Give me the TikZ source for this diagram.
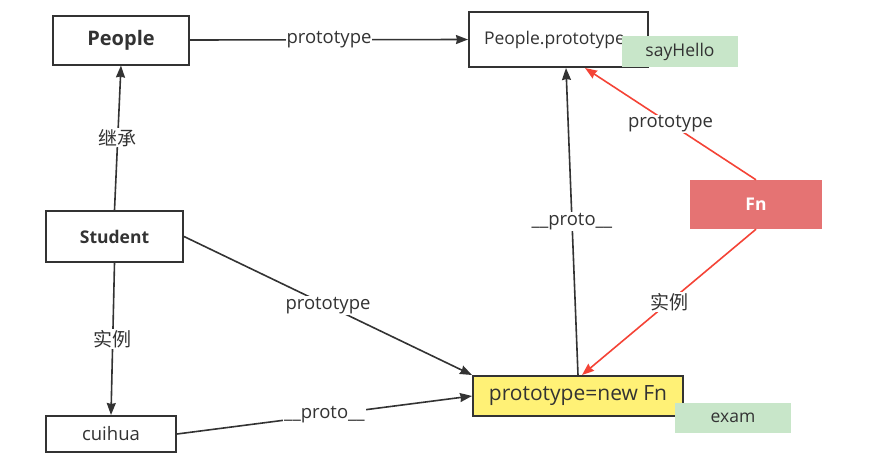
\documentclass[tikz,border=0pt]{standalone}
\usepackage{fontspec}
\usetikzlibrary{arrows.meta}
\setmainfont{Open Sans}
\newfontfamily\cjk{Noto Sans CJK SC}
\definecolor{linegray}{HTML}{333333}
\definecolor{arrowred}{HTML}{F44336}
\definecolor{notegreen}{HTML}{C8E6C9}
\definecolor{boxyellow}{HTML}{FFF176}
\definecolor{fnred}{HTML}{E57373}
\begin{document}
\begin{tikzpicture} [x = 1pt, y = -1pt, >={Stealth[length=12pt, width=9pt, inset=1pt]},
	box/.style = {draw = linegray, line width = 2pt, fill = white, inner sep = 0pt, text = linegray, font = \fontsize{18.5}{21}\selectfont},
	note/.style = {fill = notegreen, inner sep = 0pt, minimum width = 116pt, minimum height = 31pt, text = linegray, font = \fontsize{17.5}{20}\selectfont},
	link/.style = {->, draw = linegray, line width = 1.6pt},
	redlink/.style = {->, draw = arrowred, line width = 1.6pt},
	lbl/.style = {fill = white, inner sep = 1pt, text = linegray, font = \fontsize{18.5}{21}\selectfont},
	cjklbl/.style = {lbl, font = \cjk\fontsize{19}{22}\selectfont}]
	\useasboundingbox (0,0) rectangle (870,466);
	% boxes
	\node [box, minimum width = 136pt, minimum height = 49pt, font = \fontsize{20}{23}\selectfont\bfseries] (people) at (121,40) {People};
	\node [box, minimum width = 179pt, minimum height = 55pt, anchor = west, text width = 179pt, align = left, inner xsep = 0pt, font = \fontsize{17.5}{20}\selectfont] (pproto) at (468,39.5) {\hspace*{15pt}People.prototype};
	\node [note] (hello) at (680,51.5) {sayHello};
	\node [box, minimum width = 137pt, minimum height = 51pt, font = \fontsize{17.5}{20}\selectfont\bfseries] (student) at (114.5,236.5) {Student};
	\node [box, minimum width = 130pt, minimum height = 36pt] (cuihua) at (111,434) {cuihua};
	\node [box, fill = boxyellow, minimum width = 210pt, minimum height = 40pt, font = \fontsize{21}{24}\selectfont] (newfn) at (578,396) {prototype=new Fn};
	\node [note, minimum height = 30pt] (exam) at (733,418) {exam};
	\node [fill = fnred, inner sep = 0pt, minimum width = 132pt, minimum height = 49pt, text = white, font = \fontsize{17.5}{20}\selectfont\bfseries] (fn) at (756,204.5) {Fn};
	% links
	\draw [link] (people.east) -- node [lbl] {prototype} (pproto.west);
	\draw [link] (student.north) -- node [cjklbl] {继承} (people.south);
	\draw [link] (student.south) -- node [cjklbl] {实例} (cuihua.north);
	\draw [link] (student.east) -- node [lbl] {prototype} (newfn.north west);
	\draw [link] (cuihua.east) -- node [lbl] {\_\_proto\_\_} (newfn.west);
	\draw [link] (newfn.north) -- node [lbl] {\_\_proto\_\_} (pproto.south -| 566,0);
	\draw [redlink] (fn.north) -- node [lbl] {prototype} (pproto.south -| 585,0);
	\draw [redlink] (fn.south) -- node [cjklbl] {实例} (newfn.north -| 582,0);
	\end{tikzpicture}
\end{document}
